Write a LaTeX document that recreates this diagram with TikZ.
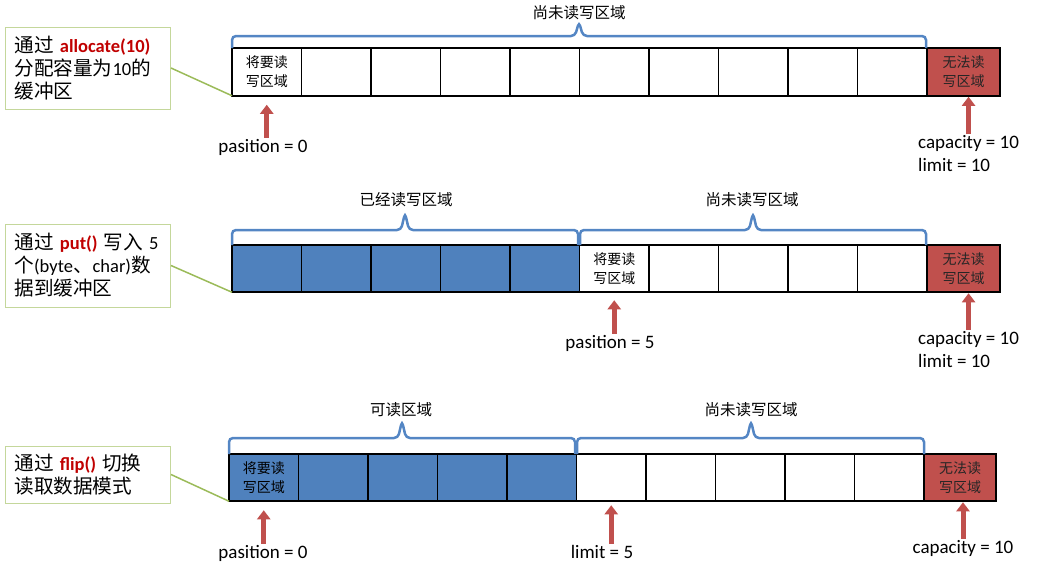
\documentclass[tikz,border=0pt]{standalone}
\usepackage{fontspec}
\setmainfont{Carlito}
\newfontfamily\cjk{Noto Sans CJK SC}
\newfontfamily\notecjk[Scale=1.06]{Noto Sans CJK SC}
\usetikzlibrary{positioning,arrows.meta}

\definecolor{usedblue}{RGB}{79,129,189}
\definecolor{fullred}{RGB}{192,80,77}
\definecolor{bracecol}{RGB}{84,134,196}
\definecolor{ptrred}{RGB}{192,80,77}
\definecolor{notebox}{RGB}{196,215,155}
\definecolor{leadgreen}{RGB}{155,187,89}
\definecolor{keyred}{RGB}{192,0,0}

\tikzset{
  cell/.style={draw, line width=1.6pt, outer sep=0pt, inner sep=0pt,
    minimum width=69.5pt, minimum height=47.5pt, align=center,
    font={\cjk\fontsize{14pt}{19pt}\selectfont}},
  usedcell/.style={cell, fill=usedblue},
  fullcell/.style={cell, fill=fullred, minimum width=73pt, text=black!85},
  note/.style={draw=notebox, line width=1pt, anchor=west, align=left,
    text width=147pt, inner xsep=9pt,
    font={\fontsize{18.5pt}{23pt}\selectfont}},
  lead/.style={leadgreen, line width=1.5pt},
  regionbrace/.style={bracecol, line width=2.5pt, rounded corners=4pt},
  regionlabel/.style={inner sep=1pt, font={\cjk\fontsize{15.5pt}{18pt}\selectfont}},
  ptrlabel/.style={inner sep=1pt, font={\fontsize{19pt}{23pt}\selectfont}},
  ptr/.style={ptrred, line width=5pt, -{Triangle[width=13pt,length=9pt]}}
}

\begin{document}
\begin{tikzpicture}[x=1pt, y=-1pt]
  \useasboundingbox (0,0) rectangle (1058,568);

  % allocate(10)
  \node [note, minimum height=82pt] (n1) at (5,68)
    {{\notecjk 通过} {\bfseries\color{keyred}allocate(10)}\\{\notecjk 分配容量为}10{\notecjk 的}\\{\notecjk 缓冲区}};
  \node [cell, anchor=west] (a1) at (232,72) {将要读\\写区域};
  \foreach \i [count=\j] in {2,...,10}
    \node [cell, right=0pt of a\j] (a\i) {};
  \node [fullcell, right=0pt of a10] (ax) {无法读\\写区域};
  \draw[lead] (n1.east) -- (a1.south west);

  \draw[regionbrace] (232,48) |- (575,36) -- (579,22) -- (583,36) -| (926,48);
  \node [regionlabel, anchor=south] at (579,21) {尚未读写区域};

  \node [ptrlabel] (p1) at (263,147) {pasition = 0};
  \node [ptrlabel, align=left, anchor=north west] (k1) at (917,134)
    {capacity = 10\\limit = 10};
  \draw[ptr, shorten >=9pt] (p1.north -| a1.south) -- (a1.south);
  \draw[ptr, shorten >=1pt] (k1.north) -- (k1.north |- ax.south);

  % put()
  \node [note, minimum height=83pt] (n2) at (5,265.5)
    {{\notecjk 通过} {\bfseries\color{keyred}put()} {\notecjk 写入} 5\\{\notecjk 个}(byte{\notecjk 、}char){\notecjk 数}\\{\notecjk 据到缓冲区}};
  \node [usedcell, anchor=west] (b1) at (232,268.5) {};
  \foreach \i [count=\j] in {2,...,5}
    \node [usedcell, right=0pt of b\j] (b\i) {};
  \node [cell, right=0pt of b5] (b6) {将要读\\写区域};
  \foreach \i [count=\j from 6] in {7,...,10}
    \node [cell, right=0pt of b\j] (b\i) {};
  \node [fullcell, right=0pt of b10] (bx) {无法读\\写区域};
  \draw[lead] (n2.east) -- (b1.south west);

  \draw[regionbrace] (232,245) |- (401,230) -- (405,213) -- (409,230) -| (578,245);
  \draw[regionbrace] (580,245) |- (749,230) -- (753,213) -- (757,230) -| (926,245);
  \node [regionlabel, anchor=south] at (406,208) {已经读写区域};
  \node [regionlabel, anchor=south] at (752,208) {尚未读写区域};

  \node [ptrlabel] (p2) at (610,343) {pasition = 5};
  \node [ptrlabel, align=left, anchor=north west] (k2) at (917,330)
    {capacity = 10\\limit = 10};
  \draw[ptr, shorten >=8pt] (p2.north -| b6.south) -- (b6.south);
  \draw[ptr, shorten >=1pt] (k2.north) -- (k2.north |- bx.south);

  % flip()
  \node [note, minimum height=57pt] (n3) at (5,474.5)
    {{\notecjk 通过} {\bfseries\color{keyred}flip()} {\notecjk 切换}\\{\notecjk 读取数据模式}};
  \node [usedcell, anchor=west] (c1) at (229,477.5) {将要读\\写区域};
  \foreach \i [count=\j] in {2,...,5}
    \node [usedcell, right=0pt of c\j] (c\i) {};
  \foreach \i [count=\j from 5] in {6,...,10}
    \node [cell, right=0pt of c\j] (c\i) {};
  \node [fullcell, minimum width=72pt, right=0pt of c10] (cx) {无法读\\写区域};
  \draw[lead] (n3.east) -- (c1.south west);

  \draw[regionbrace] (229,454) |- (398,438) -- (402,421) -- (406,438) -| (575,454);
  \draw[regionbrace] (577,454) |- (747,438) -- (751,421) -- (755,438) -| (924,454);
  \node [regionlabel, anchor=south] at (401,418) {可读区域};
  \node [regionlabel, anchor=south] at (751,418) {尚未读写区域};

  \node [ptrlabel] (p3) at (263,553) {pasition = 0};
  \node [ptrlabel] (l3) at (602,552) {limit = 5};
  \node [ptrlabel] (k3) at (963,548) {capacity = 10};
  \draw[ptr, shorten >=9pt] (p3.north -| c1.south) -- (c1.south);
  \draw[ptr, shorten >=4pt] (l3.north -| c6.south) -- (c6.south);
  \draw[ptr, shorten >=1pt] (k3.north) -- (k3.north |- cx.south);
\end{tikzpicture}
\end{document}
